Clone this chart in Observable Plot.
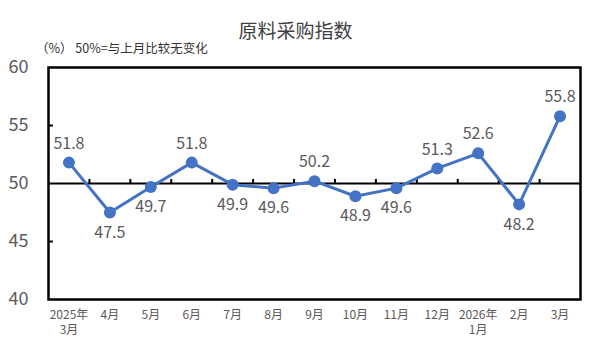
<!DOCTYPE html>
<html><head><meta charset="utf-8">
<script src="https://cdn.jsdelivr.net/npm/d3@7"></script>
<script src="https://cdn.jsdelivr.net/npm/@observablehq/plot@0.6"></script>
<style>
body{margin:0;background:#fff;font-family:"Noto Sans CJK SC","Noto Sans",sans-serif;}
#wrap{position:relative;width:591px;height:354px;}
#title{position:absolute;left:0;width:591px;top:16px;text-align:center;font-size:19px;color:#404040;}
#sub{position:absolute;left:36px;top:38px;font-size:12.5px;color:#333;}
#chart{position:absolute;left:0;top:0;}
</style></head>
<body><div id="wrap"><div id="chart"></div><div id="title">原料采购指数</div><div id="sub">（%） 50%=与上月比较无变化</div></div>
<script>
const months = ["2025年\n3月","4月","5月","6月","7月","8月","9月","10月","11月","12月","2026年\n1月","2月","3月"];
const values = [51.8,47.5,49.7,51.8,49.9,49.6,50.2,48.9,49.6,51.3,52.6,48.2,55.8];
const yTicks = [40,45,50,55,60];
const baseline = 50;

const data = months.map((m,i)=>({i, m, v: values[i]}));
const bounds = months.slice(1).map((m,i)=>i+0.5);

const plot = Plot.plot({
  width: 591, height: 354,
  marginLeft: 48, marginRight: 11, marginTop: 67, marginBottom: 55,
  style: {fontFamily: '"Noto Sans CJK SC","Noto Sans",sans-serif', background: "white"},
  x: {type: "linear", domain: [-0.5, months.length - 0.5]},
  y: {domain: [40, 60]},
  marks: [
    Plot.axisY({ticks: yTicks, tickSize: 0, tickPadding: 20, fontSize: 18, color: "#595959", label: null}),
    Plot.axisX({ticks: d3.range(months.length), tickFormat: i => months[i], tickSize: 0, tickPadding: 8, fontSize: 12, color: "#595959", label: null, lineHeight: 1.3}),
    Plot.ruleY([45,55], {x1: -0.5, x2: -0.38, stroke: "black", strokeWidth: 2}),
    Plot.ruleX(bounds, {y1: baseline, y2: baseline + 0.35, stroke: "black", strokeWidth: 2}),
    Plot.ruleY([baseline], {stroke: "black", strokeWidth: 2}),
    Plot.frame({stroke: "black", strokeWidth: 2.5}),
    Plot.line(data, {x: "i", y: "v", stroke: "#4472C4", strokeWidth: 3}),
    Plot.dot(data, {x: "i", y: "v", fill: "#4472C4", r: 6}),
    Plot.text(data.filter(d=>d.v>=baseline), {x: "i", y: "v", text: d=>d.v.toFixed(1), dy: -19, fontSize: 16, fill: "#595959"}),
    Plot.text(data.filter(d=>d.v<baseline), {x: "i", y: "v", text: d=>d.v.toFixed(1), dy: 20, fontSize: 16, fill: "#595959"})
  ]
});
document.getElementById("chart").appendChild(plot);
</script></body></html>
